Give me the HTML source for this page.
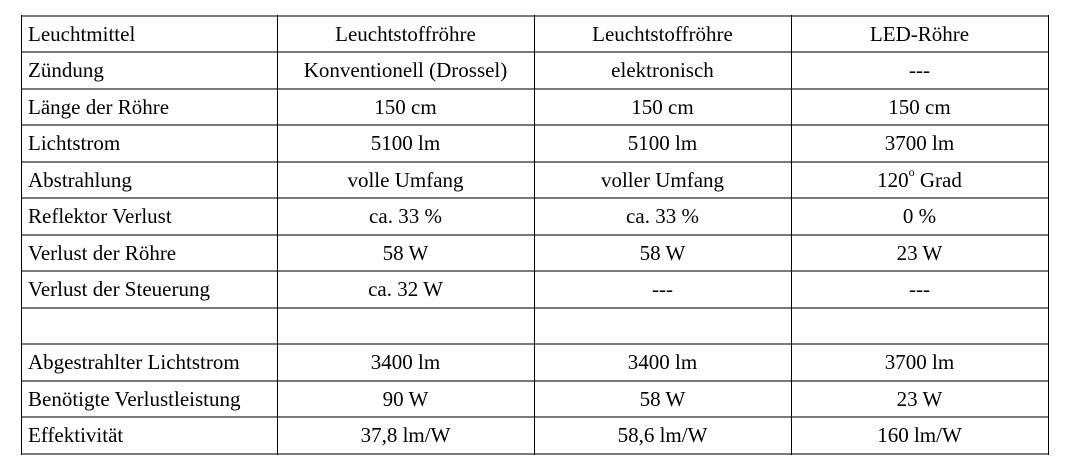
<!DOCTYPE html>
<html><head><meta charset="utf-8"><style>
body{margin:0;width:1071px;height:463px;background:#fff;position:relative;overflow:hidden;font-family:"Liberation Serif",serif;font-size:21px;color:#000}
.h{position:absolute;left:21px;width:1028px;height:2px;background:#7a7a7a}
.v{position:absolute;top:15px;height:440px;width:1px;background:#000}
.c{position:absolute;height:36px;display:flex;align-items:center;white-space:nowrap}
.l{padding-left:7px}
.m{justify-content:center}
.s{font-size:12px;position:relative;top:-8px}
</style></head><body>
<script>
const rows=[
["Leuchtmittel","Leuchtstoffröhre","Leuchtstoffröhre","LED-Röhre"],
["Zündung","Konventionell (Drossel)","elektronisch","---"],
["Länge der Röhre","150 cm","150 cm","150 cm"],
["Lichtstrom","5100 lm","5100 lm","3700 lm"],
["Abstrahlung","volle Umfang","voller Umfang","120<span class='s'>o</span>&nbsp;Grad"],
["Reflektor Verlust","ca. 33 %","ca. 33 %","0 %"],
["Verlust der Röhre","58 W","58 W","23 W"],
["Verlust der Steuerung","ca. 32 W","---","---"],
["","","",""],
["Abgestrahlter Lichtstrom","3400 lm","3400 lm","3700 lm"],
["Benötigte Verlustleistung","90 W","58 W","23 W"],
["Effektivität","37,8 lm/W","58,6 lm/W","160 lm/W"]];
const cols=[21,277,534,791,1048];
const top0=15,rh=36.5;
const b=document.body;
for(let i=0;i<=rows.length;i++){const d=document.createElement('div');d.className='h';d.style.top=(top0+i*rh-0.5)+'px';

b.appendChild(d);}
cols.forEach(x=>{const d=document.createElement('div');d.className='v';d.style.left=x+'px';

b.appendChild(d);});
rows.forEach((r,i)=>r.forEach((t,j)=>{const d=document.createElement('div');d.className='c '+(j==0?'l':'m');
d.style.top=(top0+i*rh+1)+'px';d.style.left=cols[j]+'px';d.style.width=(cols[j+1]-cols[j])+'px';d.innerHTML=t;

b.appendChild(d);}));
</script>
</body></html>
